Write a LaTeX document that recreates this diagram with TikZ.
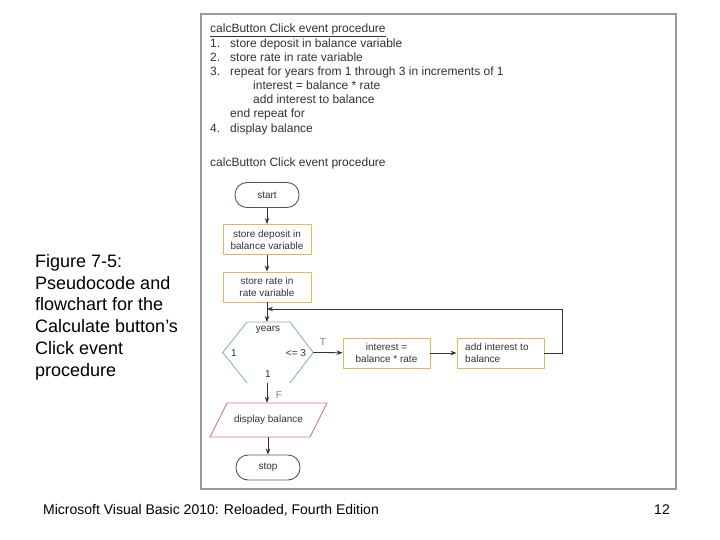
\documentclass[tikz,border=0pt]{standalone}
\usepackage{fontspec}
\setmainfont{Liberation Sans}
\usetikzlibrary{arrows.meta,calc}
\definecolor{txt}{HTML}{333333}
\definecolor{termc}{HTML}{4A5866}
\definecolor{boxc}{HTML}{E2B666}
\definecolor{hexc}{HTML}{88B4C4}
\definecolor{parc}{HTML}{D07A7A}
\definecolor{framec}{HTML}{9A9A9A}
\tikzset{
  code/.style={anchor=base west,inner sep=0pt,text=txt,font=\fontsize{12}{13}\selectfont},
  fc/.style={text=txt,font=\fontsize{10}{12}\selectfont,align=center,inner sep=0pt},
  term/.style={fc,draw=termc,line width=0.9pt,rounded corners=12pt,minimum width=64pt,minimum height=25pt},
  proc/.style={fc,draw=boxc,line width=0.9pt,minimum width=88pt,minimum height=30pt},
  arr/.style={draw=txt,line width=0.8pt,-{Stealth[length=6pt,width=4.5pt]}},
  captext/.style={anchor=base west,inner sep=0pt,font=\fontsize{18}{21.7}\selectfont,align=left}
}
\begin{document}
\begin{tikzpicture}[x=1pt,y=-1pt]
\useasboundingbox (0,0) rectangle (720,540);
\fill[white] (0,0) rectangle (720,540);
% frame
\draw[framec,line width=1.8pt] (201,14) rectangle (676,489);
% pseudocode
\node[code] (h1) at (210,32.5) {\underline{calcButton Click event procedure}};
\node[code] (n1) at (210,47.5) {1.};
\node[code] (l1) at (230,47.5) {store deposit in balance variable};
\node[code] (n2) at (210,61.5) {2.};
\node[code] (l2) at (230,61.5) {store rate in rate variable};
\node[code] (n3) at (210,75.5) {3.};
\node[code] (l3) at (230,75.5) {repeat for years from 1 through 3 in increments of 1};
\node[code] (l3a) at (253,90) {interest = balance * rate};
\node[code] (l3b) at (253,104) {add interest to balance};
\node[code] (l3c) at (230,118) {end repeat for};
\node[code] (n4) at (210,132.5) {4.};
\node[code] (l4) at (230,132.5) {display balance};
\node[code] (h2) at (210,166.5) {calcButton Click event procedure};
% flowchart
\node[term] (start) at (267,195) {start};
\node[proc] (b1) at (267,239.5) {store deposit in\\balance variable};
\node[proc] (b2) at (267,287) {store rate in\\rate variable};
\node[minimum width=90pt,minimum height=61pt,inner sep=0pt] (dec) at (268,352.5) {};
\draw[hexc,line width=0.9pt] (247,383) -- (dec.west) -- (247,322) -- (290,322) -- (dec.east) -- (290,383);
\node[fc] (yrs) at (268,329.5) {years};
\node[fc] (one) at (234,353) {1};
\node[fc] (le) at (296,353) {<= 3};
\node[fc] (stp) at (268,374) {1};
\node[proc,minimum width=87pt] (b3) at (386.5,353) {interest =\\balance * rate};
\node[proc,minimum width=87pt,align=left] (b4) at (500.5,353) {add interest to\\balance\phantom{ interest}};
\node[fc,text=gray] (tl) at (323,342) {T};
\node[fc,text=gray] (fl) at (279,395) {F};
\node[minimum width=117pt,minimum height=34pt,inner sep=0pt,fc] (par) at (268.5,420) {display balance};
\draw[parc,line width=0.9pt] (210,437) -- (227,403) -- (327,403) -- (310,437) -- cycle;
\node[term] (stop) at (268,467.5) {stop};
\coordinate (join) at (267,309);
\coordinate (dtop) at (267,322);
\coordinate (dbot) at (267,383);
\draw[arr] (start) -- (b1);
\draw[arr] (b1) -- (b2);
\draw[arr] (b2) -- (dtop);
\draw[arr] (dec.east) -- (b3);
\draw[arr] (b3) -- (b4);
\draw[arr] (b4.east) -- ++(18,0) |- (join);
\draw[arr] (dbot) -- (dbot |- par.north);
\draw[arr] (par.south -| stop) -- (stop);
% caption
\node[captext] (cap1) at (35,267.5) {Figure 7-5:};
\node[captext] (cap2) at (35,289.2) {Pseudocode and};
\node[captext] (cap3) at (35,310.9) {flowchart for the};
\node[captext] (cap4) at (35,332.6) {Calculate button’s};
\node[captext] (cap5) at (35,354.3) {Click event};
\node[captext] (cap6) at (35,376) {procedure};
% footer
\node[anchor=west,inner sep=0pt,font=\fontsize{14}{16}\selectfont] (foot) at (43,510) {Microsoft Visual Basic 2010: Reloaded, Fourth Edition};
\node[inner sep=0pt,font=\fontsize{14}{16}\selectfont] (pg) at (662,510) {12};
\end{tikzpicture}
\end{document}
